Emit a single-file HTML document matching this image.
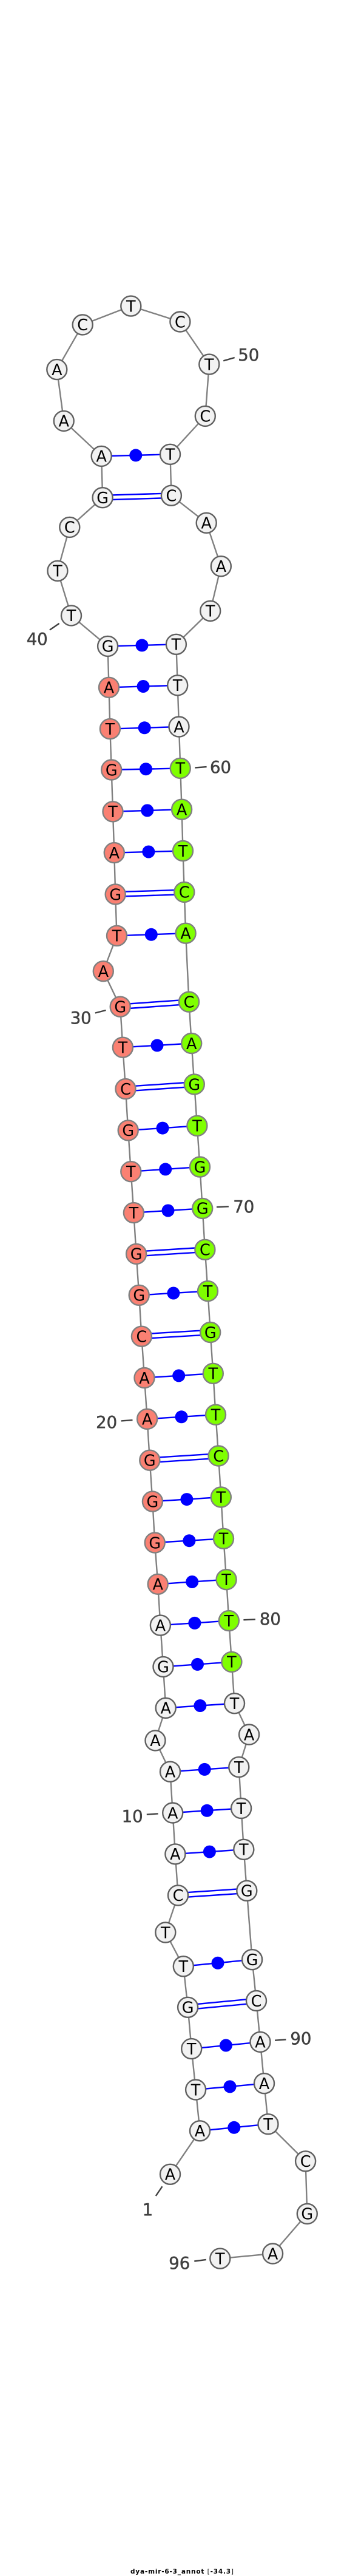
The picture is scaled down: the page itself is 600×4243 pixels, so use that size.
<!DOCTYPE html>
<html><head><meta charset="utf-8"><style>
html,body{margin:0;padding:0;background:#fff}
svg{display:block}
.n{font-family:"DejaVu Sans",sans-serif;font-size:25.5px;fill:#000;text-anchor:middle}
.l{font-family:"DejaVu Sans",sans-serif;font-size:27.5px;fill:#404040;stroke:#404040;stroke-width:.5;text-anchor:middle}
.t{font-family:"DejaVu Sans",sans-serif;font-size:10.5px;font-weight:bold;fill:#000;text-anchor:middle}
</style></head><body>
<svg width="600" height="4243" viewBox="0 0 600 4243" xmlns="http://www.w3.org/2000/svg">
<polyline fill="none" stroke="#808080" stroke-width="2.4" points="280.5,3581.3 329.5,3509.8 322.6,3442 315.7,3374.6 309.6,3306.3 302.3,3238.8 272.8,3183 293.5,3121.9 288.9,3053.9 284.7,2986 280.5,2918.2 256,2866.9 273.2,2813.3 269,2745.4 264.4,2677.1 260.2,2609.3 255.2,2541 251.4,2473.1 246.8,2405.2 242.6,2337.3 238,2269.5 233.4,2201.2 229.2,2133.3 224.6,2065.4 220.4,1997.6 215.8,1929.7 211.2,1861.9 207,1793.6 202.4,1725.2 198.2,1658.2 170.3,1599.7 192.5,1541.3 190.2,1473 188.3,1404.6 186,1336.8 183.7,1268 181.4,1200.6 179.5,1132.3 177.6,1064.4 117.5,1013.9 94.9,940.3 114.8,868.4 169.1,819.7 167.2,751.4 105.2,693.4 93.8,608.6 136.2,534.9 215.8,504.1 296.9,530 344.8,600.1 338.3,685.4 280.5,748.3 282.4,816.2 340.2,861.3 364.3,932.7 346.7,1006.3 290.4,1061.3 292.7,1128.8 295,1197 297.3,1265.4 299.6,1333.2 301.5,1401.5 303.8,1469.4 306.1,1537.2 311.5,1650.2 315.7,1718.5 320.3,1786 324.9,1854.3 329.5,1922.1 333.7,1990.4 337.9,2058.3 342.5,2126.6 346.7,2194.5 351.3,2262.3 355.5,2330.2 360.1,2398 364.3,2466 368.5,2534.3 373.1,2601.7 377.3,2669.6 381.9,2737.4 386.5,2805.7 410.6,2857 393.8,2910.6 397.6,2978.5 401.8,3046.3 406.8,3114.3 415.6,3227.7 422.5,3295.5 429,3363.4 435.5,3431.7 442,3498.7 503.6,3559.8 506.3,3646.4 449.6,3712 362.8,3720.1"/>
<g stroke="#0000ff" stroke-width="2.4" fill="none">
<path d="M329.5 3509.8L442 3498.7M322.6 3442L435.5 3431.7M315.7 3374.6L429 3363.4M302.3 3238.8L415.6 3227.7M288.9 3053.9L401.8 3046.3M284.7 2986L397.6 2978.5M280.5 2918.2L393.8 2910.6M273.2 2813.3L386.5 2805.7M269 2745.4L381.9 2737.4M264.4 2677.1L377.3 2669.6M260.2 2609.3L373.1 2601.7M255.2 2541L368.5 2534.3M251.4 2473.1L364.3 2466M242.6 2337.3L355.5 2330.2M238 2269.5L351.3 2262.3M229.2 2133.3L342.5 2126.6M220.4 1997.6L333.7 1990.4M215.8 1929.7L329.5 1922.1M211.2 1861.9L324.9 1854.3M202.4 1725.2L315.7 1718.5M192.5 1541.3L306.1 1537.2M188.3 1404.6L301.5 1401.5M186 1336.8L299.6 1333.2M183.7 1268L297.3 1265.4M181.4 1200.6L295 1197M179.5 1132.3L292.7 1128.8M177.6 1064.4L290.4 1061.3M167.2 751.4L280.5 748.3"/>
<path d="M309.6 3302.5L422.5 3291.7M309.6 3310.1L422.5 3299.3M293.5 3118.1L406.8 3110.5M293.5 3125.7L406.8 3118.1M246.8 2401.4L360.1 2394.2M246.8 2409L360.1 2401.8M233.4 2197.4L346.7 2190.7M233.4 2205L346.7 2198.3M224.6 2061.6L337.9 2054.5M224.6 2069.2L337.9 2062.1M207 1789.8L320.3 1782.2M207 1797.4L320.3 1789.8M198.2 1654.4L311.5 1646.4M198.2 1662L311.5 1654M190.2 1469.2L303.8 1465.6M190.2 1476.8L303.8 1473.2M169.1 815.9L282.4 812.4M169.1 823.5L282.4 820"/>
</g>
<g fill="#0000ff">
<circle cx="385.8" cy="3504.3" r="10.5"/><circle cx="379" cy="3436.9" r="10.5"/><circle cx="372.4" cy="3369" r="10.5"/><circle cx="359" cy="3233.3" r="10.5"/><circle cx="345.4" cy="3050.1" r="10.5"/><circle cx="341.2" cy="2982.3" r="10.5"/><circle cx="337.2" cy="2914.4" r="10.5"/><circle cx="329.9" cy="2809.5" r="10.5"/><circle cx="325.5" cy="2741.4" r="10.5"/><circle cx="320.9" cy="2673.4" r="10.5"/><circle cx="316.7" cy="2605.5" r="10.5"/><circle cx="311.9" cy="2537.7" r="10.5"/><circle cx="307.9" cy="2469.6" r="10.5"/><circle cx="299.1" cy="2333.8" r="10.5"/><circle cx="294.7" cy="2265.9" r="10.5"/><circle cx="285.9" cy="2130" r="10.5"/><circle cx="277" cy="1994" r="10.5"/><circle cx="272.7" cy="1925.9" r="10.5"/><circle cx="268" cy="1858.1" r="10.5"/><circle cx="259" cy="1721.9" r="10.5"/><circle cx="249.3" cy="1539.3" r="10.5"/><circle cx="244.9" cy="1403" r="10.5"/><circle cx="242.8" cy="1335" r="10.5"/><circle cx="240.5" cy="1266.7" r="10.5"/><circle cx="238.2" cy="1198.8" r="10.5"/><circle cx="236.1" cy="1130.5" r="10.5"/><circle cx="234" cy="1062.9" r="10.5"/><circle cx="223.8" cy="749.9" r="10.5"/>
</g>
<g fill="#f2f2f2" stroke="#606060" stroke-width="2.4">
<circle cx="280.5" cy="3581.3" r="16.5"/><circle cx="329.5" cy="3509.8" r="16.5"/><circle cx="322.6" cy="3442" r="16.5"/><circle cx="315.7" cy="3374.6" r="16.5"/><circle cx="309.6" cy="3306.3" r="16.5"/><circle cx="302.3" cy="3238.8" r="16.5"/><circle cx="272.8" cy="3183" r="16.5"/><circle cx="293.5" cy="3121.9" r="16.5"/><circle cx="288.9" cy="3053.9" r="16.5"/><circle cx="284.7" cy="2986" r="16.5"/><circle cx="280.5" cy="2918.2" r="16.5"/><circle cx="256" cy="2866.9" r="16.5"/><circle cx="273.2" cy="2813.3" r="16.5"/><circle cx="269" cy="2745.4" r="16.5"/><circle cx="264.4" cy="2677.1" r="16.5"/>
<circle cx="177.6" cy="1064.4" r="16.5"/><circle cx="117.5" cy="1013.9" r="16.5"/><circle cx="94.9" cy="940.3" r="16.5"/><circle cx="114.8" cy="868.4" r="16.5"/><circle cx="169.1" cy="819.7" r="16.5"/><circle cx="167.2" cy="751.4" r="16.5"/><circle cx="105.2" cy="693.4" r="16.5"/><circle cx="93.8" cy="608.6" r="16.5"/><circle cx="136.2" cy="534.9" r="16.5"/><circle cx="215.8" cy="504.1" r="16.5"/><circle cx="296.9" cy="530" r="16.5"/><circle cx="344.8" cy="600.1" r="16.5"/><circle cx="338.3" cy="685.4" r="16.5"/><circle cx="280.5" cy="748.3" r="16.5"/><circle cx="282.4" cy="816.2" r="16.5"/><circle cx="340.2" cy="861.3" r="16.5"/><circle cx="364.3" cy="932.7" r="16.5"/><circle cx="346.7" cy="1006.3" r="16.5"/><circle cx="290.4" cy="1061.3" r="16.5"/><circle cx="292.7" cy="1128.8" r="16.5"/><circle cx="295" cy="1197" r="16.5"/>
<circle cx="386.5" cy="2805.7" r="16.5"/><circle cx="410.6" cy="2857" r="16.5"/><circle cx="393.8" cy="2910.6" r="16.5"/><circle cx="397.6" cy="2978.5" r="16.5"/><circle cx="401.8" cy="3046.3" r="16.5"/><circle cx="406.8" cy="3114.3" r="16.5"/><circle cx="415.6" cy="3227.7" r="16.5"/><circle cx="422.5" cy="3295.5" r="16.5"/><circle cx="429" cy="3363.4" r="16.5"/><circle cx="435.5" cy="3431.7" r="16.5"/><circle cx="442" cy="3498.7" r="16.5"/><circle cx="503.6" cy="3559.8" r="16.5"/><circle cx="506.3" cy="3646.4" r="16.5"/><circle cx="449.6" cy="3712" r="16.5"/><circle cx="362.8" cy="3720.1" r="16.5"/>
</g>
<g fill="#fa8072" stroke="#808080" stroke-width="2.4">
<circle cx="260.2" cy="2609.3" r="16.5"/><circle cx="255.2" cy="2541" r="16.5"/><circle cx="251.4" cy="2473.1" r="16.5"/><circle cx="246.8" cy="2405.2" r="16.5"/><circle cx="242.6" cy="2337.3" r="16.5"/><circle cx="238" cy="2269.5" r="16.5"/><circle cx="233.4" cy="2201.2" r="16.5"/><circle cx="229.2" cy="2133.3" r="16.5"/><circle cx="224.6" cy="2065.4" r="16.5"/><circle cx="220.4" cy="1997.6" r="16.5"/><circle cx="215.8" cy="1929.7" r="16.5"/><circle cx="211.2" cy="1861.9" r="16.5"/><circle cx="207" cy="1793.6" r="16.5"/><circle cx="202.4" cy="1725.2" r="16.5"/><circle cx="198.2" cy="1658.2" r="16.5"/><circle cx="170.3" cy="1599.7" r="16.5"/><circle cx="192.5" cy="1541.3" r="16.5"/><circle cx="190.2" cy="1473" r="16.5"/><circle cx="188.3" cy="1404.6" r="16.5"/><circle cx="186" cy="1336.8" r="16.5"/><circle cx="183.7" cy="1268" r="16.5"/><circle cx="181.4" cy="1200.6" r="16.5"/><circle cx="179.5" cy="1132.3" r="16.5"/>
</g>
<g fill="#7fff00" stroke="#808080" stroke-width="2.4">
<circle cx="297.3" cy="1265.4" r="16.5"/><circle cx="299.6" cy="1333.2" r="16.5"/><circle cx="301.5" cy="1401.5" r="16.5"/><circle cx="303.8" cy="1469.4" r="16.5"/><circle cx="306.1" cy="1537.2" r="16.5"/><circle cx="311.5" cy="1650.2" r="16.5"/><circle cx="315.7" cy="1718.5" r="16.5"/><circle cx="320.3" cy="1786" r="16.5"/><circle cx="324.9" cy="1854.3" r="16.5"/><circle cx="329.5" cy="1922.1" r="16.5"/><circle cx="333.7" cy="1990.4" r="16.5"/><circle cx="337.9" cy="2058.3" r="16.5"/><circle cx="342.5" cy="2126.6" r="16.5"/><circle cx="346.7" cy="2194.5" r="16.5"/><circle cx="351.3" cy="2262.3" r="16.5"/><circle cx="355.5" cy="2330.2" r="16.5"/><circle cx="360.1" cy="2398" r="16.5"/><circle cx="364.3" cy="2466" r="16.5"/><circle cx="368.5" cy="2534.3" r="16.5"/><circle cx="373.1" cy="2601.7" r="16.5"/><circle cx="377.3" cy="2669.6" r="16.5"/><circle cx="381.9" cy="2737.4" r="16.5"/>
</g>
<g transform="translate(0,9.3)">
<text class="n" x="280.5" y="3581.3">A</text><text class="n" x="329.5" y="3509.8">A</text><text class="n" x="322.6" y="3442">T</text><text class="n" x="315.7" y="3374.6">T</text><text class="n" x="309.6" y="3306.3">G</text><text class="n" x="302.3" y="3238.8">T</text><text class="n" x="272.8" y="3183">T</text><text class="n" x="293.5" y="3121.9">C</text><text class="n" x="288.9" y="3053.9">A</text><text class="n" x="284.7" y="2986">A</text><text class="n" x="280.5" y="2918.2">A</text><text class="n" x="256" y="2866.9">A</text><text class="n" x="273.2" y="2813.3">A</text><text class="n" x="269" y="2745.4">G</text><text class="n" x="264.4" y="2677.1">A</text><text class="n" x="260.2" y="2609.3">A</text><text class="n" x="255.2" y="2541">G</text><text class="n" x="251.4" y="2473.1">G</text><text class="n" x="246.8" y="2405.2">G</text><text class="n" x="242.6" y="2337.3">A</text><text class="n" x="238" y="2269.5">A</text><text class="n" x="233.4" y="2201.2">C</text><text class="n" x="229.2" y="2133.3">G</text><text class="n" x="224.6" y="2065.4">G</text><text class="n" x="220.4" y="1997.6">T</text><text class="n" x="215.8" y="1929.7">T</text><text class="n" x="211.2" y="1861.9">G</text><text class="n" x="207" y="1793.6">C</text><text class="n" x="202.4" y="1725.2">T</text><text class="n" x="198.2" y="1658.2">G</text><text class="n" x="170.3" y="1599.7">A</text><text class="n" x="192.5" y="1541.3">T</text><text class="n" x="190.2" y="1473">G</text><text class="n" x="188.3" y="1404.6">A</text><text class="n" x="186" y="1336.8">T</text><text class="n" x="183.7" y="1268">G</text><text class="n" x="181.4" y="1200.6">T</text><text class="n" x="179.5" y="1132.3">A</text><text class="n" x="177.6" y="1064.4">G</text><text class="n" x="117.5" y="1013.9">T</text><text class="n" x="94.9" y="940.3">T</text><text class="n" x="114.8" y="868.4">C</text><text class="n" x="169.1" y="819.7">G</text><text class="n" x="167.2" y="751.4">A</text><text class="n" x="105.2" y="693.4">A</text><text class="n" x="93.8" y="608.6">A</text><text class="n" x="136.2" y="534.9">C</text><text class="n" x="215.8" y="504.1">T</text><text class="n" x="296.9" y="530">C</text><text class="n" x="344.8" y="600.1">T</text><text class="n" x="338.3" y="685.4">C</text><text class="n" x="280.5" y="748.3">T</text><text class="n" x="282.4" y="816.2">C</text><text class="n" x="340.2" y="861.3">A</text><text class="n" x="364.3" y="932.7">A</text><text class="n" x="346.7" y="1006.3">T</text><text class="n" x="290.4" y="1061.3">T</text><text class="n" x="292.7" y="1128.8">T</text><text class="n" x="295" y="1197">A</text><text class="n" x="297.3" y="1265.4">T</text><text class="n" x="299.6" y="1333.2">A</text><text class="n" x="301.5" y="1401.5">T</text><text class="n" x="303.8" y="1469.4">C</text><text class="n" x="306.1" y="1537.2">A</text><text class="n" x="311.5" y="1650.2">C</text><text class="n" x="315.7" y="1718.5">A</text><text class="n" x="320.3" y="1786">G</text><text class="n" x="324.9" y="1854.3">T</text><text class="n" x="329.5" y="1922.1">G</text><text class="n" x="333.7" y="1990.4">G</text><text class="n" x="337.9" y="2058.3">C</text><text class="n" x="342.5" y="2126.6">T</text><text class="n" x="346.7" y="2194.5">G</text><text class="n" x="351.3" y="2262.3">T</text><text class="n" x="355.5" y="2330.2">T</text><text class="n" x="360.1" y="2398">C</text><text class="n" x="364.3" y="2466">T</text><text class="n" x="368.5" y="2534.3">T</text><text class="n" x="373.1" y="2601.7">T</text><text class="n" x="377.3" y="2669.6">T</text><text class="n" x="381.9" y="2737.4">T</text><text class="n" x="386.5" y="2805.7">T</text><text class="n" x="410.6" y="2857">A</text><text class="n" x="393.8" y="2910.6">T</text><text class="n" x="397.6" y="2978.5">T</text><text class="n" x="401.8" y="3046.3">T</text><text class="n" x="406.8" y="3114.3">G</text><text class="n" x="415.6" y="3227.7">G</text><text class="n" x="422.5" y="3295.5">C</text><text class="n" x="429" y="3363.4">A</text><text class="n" x="435.5" y="3431.7">A</text><text class="n" x="442" y="3498.7">T</text><text class="n" x="503.6" y="3559.8">C</text><text class="n" x="506.3" y="3646.4">G</text><text class="n" x="449.6" y="3712">A</text><text class="n" x="362.8" y="3720.1">T</text>
</g>
<path fill="none" stroke="#404040" stroke-width="2.4" d="M368.3 594.3L386.7 589M81.9 1037.6L97.6 1026.9M321.4 1264.5L340.6 1263.1M156.9 1668.5L174.5 1664M357 1988.2L376.9 1987.3M199.7 2340.4L218.5 2339.1M401.4 2668.2L420.9 2667.3M241.8 2988.7L260.6 2987.4M453.1 3360.7L471.4 3359.4M256.8 3617L267.5 3601.3M320.3 3724.5L339.8 3721.9"/>
<g transform="translate(0,10)">
<text class="l" x="409.8" y="584">50</text><text class="l" x="61.2" y="1051.9">40</text><text class="l" x="363.5" y="1263">60</text><text class="l" x="133.2" y="1676">30</text><text class="l" x="401.8" y="1986.9">70</text><text class="l" x="175.6" y="2342.2">20</text><text class="l" x="445.4" y="2666">80</text><text class="l" x="218.1" y="2991">10</text><text class="l" x="495.9" y="3357.1">90</text><text class="l" x="243.4" y="3638.8">1</text><text class="l" x="295.8" y="3726.8">96</text>
</g>
<text class="t" x="300" y="4239" textLength="170" lengthAdjust="spacing">dya-mir-6-3_annot <tspan font-weight="normal">[</tspan>-34.3<tspan font-weight="normal">]</tspan></text>
</svg>
</body></html>
